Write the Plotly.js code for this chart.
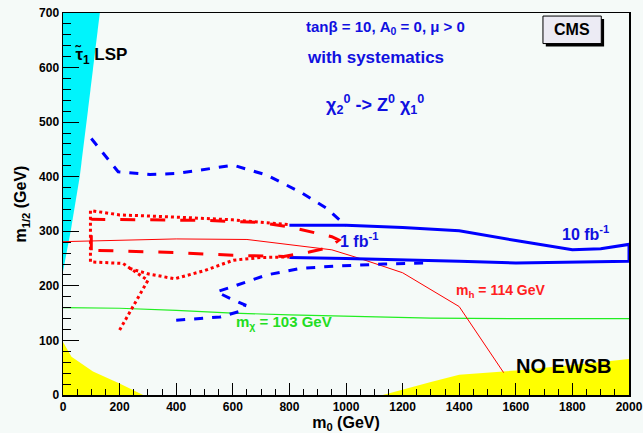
<!DOCTYPE html>
<html><head><meta charset="utf-8">
<script src="https://cdn.plot.ly/plotly-3.0.1.min.js"></script>
<style>html,body{margin:0;padding:0;background:#fff;}</style>
</head><body>
<div id="chart" style="width:643px;height:433px;"></div>
<script>
// stau LSP region (cyan)
const stauX = [0, 0, 27, 59, 83, 106, 130, 0];
const stauY = [700, 226, 300, 400, 500, 600, 700, 700];
// theoretically excluded, low m0 (yellow)
const lepX = [0, 0, 30, 106, 200, 283, 0];
const lepY = [0, 97, 70, 43, 21, 0, 0];
// NO EWSB region (yellow)
const ewsbX = [1130, 1200, 1300, 1400, 1600, 1800, 2000, 2000, 1130];
const ewsbY = [0, 10, 24, 37, 45, 55, 66, 0, 0];
// m_chi = 103 GeV (green)
const mchiX = [0, 200, 400, 600, 800, 1000, 1150, 1300, 1600, 2000];
const mchiY = [160, 159, 155, 150, 147, 145, 143, 141, 140, 140];
// m_h = 114 GeV (red thin)
const mhX = [0, 200, 400, 650, 800, 950, 1050, 1200, 1400, 1557];
const mhY = [281, 284, 286, 285, 276, 266, 250, 224, 162, 41];
// 10 fb-1, with systematics (blue dashed), upper branch
const b10dUpX = [100, 195, 307, 401, 602, 720, 838, 932, 1000];
const b10dUpY = [470, 409, 404, 406, 421, 403, 372, 342, 310];
// blue dashed, lower branch
const b10dLoX = [400, 555, 637, 643, 590, 543, 602, 720, 838, 955, 1132, 1300];
const b10dLoY = [137, 143, 155, 165, 177, 189, 199, 220, 232, 236, 240, 242];
// 10 fb-1 (blue solid)
const b10X = [800, 1000, 1200, 1400, 1600, 1800, 1900, 2000, 2000, 1800, 1600, 1400, 1200, 1000, 800];
const b10Y = [311, 311, 307, 301, 283, 266, 268, 276, 245, 243, 242, 245, 248, 250, 252];
// 1 fb-1 (red dashed)
const r1X = [125, 400, 600, 780, 870, 940, 975, 950, 800, 700, 500, 300, 100, 100];
const r1Y = [265, 261, 256, 254, 262, 270, 284, 290, 308, 316, 320, 321, 322, 260];
// red dotted (with systematics)
const rdAX = [200, 300, 212, 97, 97, 200, 400, 600, 800];
const rdAY = [119, 210, 241, 244, 338, 330, 326, 321, 312];
const rdBX = [235, 300, 395, 500, 602, 700, 800];
const rdBY = [232, 222, 213, 228, 247, 252, 253];

const FONT = 'Liberation Sans, Arial, sans-serif';
const data = [
  {x: stauX, y: stauY, mode: 'lines', fill: 'toself', fillcolor: '#00f4fc', line: {width: 0, color: '#00f4fc'}, hoverinfo: 'skip'},
  {x: lepX, y: lepY, mode: 'lines', fill: 'toself', fillcolor: '#ffff00', line: {width: 0, color: '#ffff00'}, hoverinfo: 'skip'},
  {x: ewsbX, y: ewsbY, mode: 'lines', fill: 'toself', fillcolor: '#ffff00', line: {width: 0, color: '#ffff00'}, hoverinfo: 'skip'},
  {x: mchiX, y: mchiY, mode: 'lines', line: {color: '#22ee22', width: 1.2}},
  {x: mhX, y: mhY, mode: 'lines', line: {color: '#ff0000', width: 1}},
  {x: b10dUpX, y: b10dUpY, mode: 'lines', line: {color: '#0000ff', width: 3, dash: 'dash'}},
  {x: b10dLoX, y: b10dLoY, mode: 'lines', line: {color: '#0000ff', width: 3, dash: 'dash'}},
  {x: b10X, y: b10Y, mode: 'lines', line: {color: '#0000ff', width: 3}},
  {x: r1X, y: r1Y, mode: 'lines', line: {color: '#ff0000', width: 3, dash: 'longdash'}},
  {x: rdAX, y: rdAY, mode: 'lines', line: {color: '#ff0000', width: 3, dash: 'dot'}},
  {x: rdBX, y: rdBY, mode: 'lines', line: {color: '#ff0000', width: 3, dash: 'dot'}}
];

const bold = (s) => '<b>' + s + '</b>';
const layout = {
  width: 643, height: 433,
  margin: {l: 63, r: 14, t: 13, b: 38},
  paper_bgcolor: '#f5faf8',
  plot_bgcolor: '#f5faf8',
  showlegend: false,
  font: {family: FONT, color: '#000'},
  xaxis: {
    range: [0, 2000], dtick: 200, ticks: 'inside', ticklen: 12, tickcolor: '#000',
    minor: {dtick: 50, ticks: 'inside', ticklen: 6, tickcolor: '#000'},
    showgrid: false, zeroline: false, showline: true, linecolor: '#000', linewidth: 1.5, mirror: true,
    tickprefix: '<b>', ticksuffix: '</b>',
    tickfont: {family: FONT, size: 12, color: '#000'},
    title: {text: bold('m<sub>0</sub> (GeV)'), font: {family: FONT, size: 16, color: '#000'}, standoff: 4}
  },
  yaxis: {
    range: [0, 700], dtick: 100, ticks: 'inside', ticklen: 16, tickcolor: '#000',
    minor: {dtick: 20, ticks: 'inside', ticklen: 8, tickcolor: '#000'},
    showgrid: false, zeroline: false, showline: true, linecolor: '#000', linewidth: 1.5, mirror: true,
    tickprefix: '<b>', ticksuffix: '</b>',
    tickfont: {family: FONT, size: 12, color: '#000'},
    title: {text: bold('m<sub>1/2</sub> (GeV)'), font: {family: FONT, size: 16, color: '#000'}, standoff: 8}
  },
  shapes: [
    {type: 'rect', xref: 'paper', yref: 'paper', x0: 0.853, x1: 0.956, y0: 0.912, y1: 0.984, fillcolor: '#000', line: {width: 0}, layer: 'below'},
    {type: 'rect', xref: 'paper', yref: 'paper', x0: 0.848, x1: 0.951, y0: 0.920, y1: 0.992, fillcolor: '#ecebf4', line: {width: 1, color: '#000'}, layer: 'below'}
  ],
  annotations: [
    {x: 0.8995, y: 0.956, xref: 'paper', yref: 'paper', xanchor: 'center', yanchor: 'middle', text: bold('CMS'), showarrow: false, font: {family: FONT, size: 16, color: '#000'}},
    {x: 35, y: 622, text: bold('\u03C4\u0303<sub>1</sub> LSP'), showarrow: false, xanchor: 'left', font: {family: FONT, size: 17, color: '#000'}},
    {x: 1138, y: 674, text: bold('tan\u03B2 = 10, A<sub>0</sub> = 0, \u03BC > 0'), showarrow: false, font: {family: FONT, size: 15, color: '#1010e0'}},
    {x: 1103, y: 619, text: bold('with systematics'), showarrow: false, font: {family: FONT, size: 17, color: '#1010e0'}},
    {x: 1103, y: 533, text: bold('\u03C7<sub>2</sub><sup>0</sup> -> Z<sup>0</sup> \u03C7<sub>1</sub><sup>0</sup>'), showarrow: false, font: {family: FONT, size: 18, color: '#1010e0'}},
    {x: 1045, y: 284, text: bold('1 fb<sup>-1</sup>'), showarrow: false, font: {family: FONT, size: 16, color: '#1010e0'}},
    {x: 1846, y: 296, text: bold('10 fb<sup>-1</sup>'), showarrow: false, font: {family: FONT, size: 16, color: '#1010e0'}},
    {x: 1546, y: 190, text: bold('m<sub>h</sub> = 114 GeV'), showarrow: false, font: {family: FONT, size: 14, color: '#ff2020'}},
    {x: 781, y: 132, text: bold('m<sub>\u03C7</sub> = 103 GeV'), showarrow: false, font: {family: FONT, size: 15, color: '#22dd22'}},
    {x: 1772, y: 54, text: bold('NO EWSB'), showarrow: false, font: {family: FONT, size: 20, color: '#000'}}
  ]
};
Plotly.newPlot('chart', data, layout, {staticPlot: true, displayModeBar: false});
</script>
</body></html>
